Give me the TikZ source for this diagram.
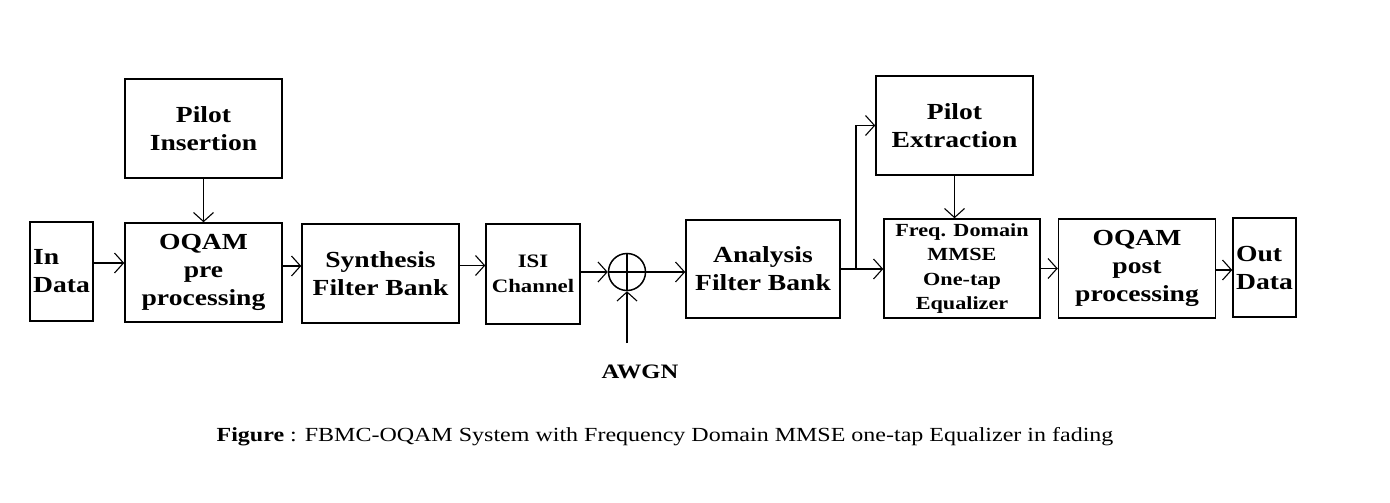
\documentclass[tikz,border=0pt]{standalone}
\usepackage{fontspec}
\setmainfont{Liberation Serif}[FakeStretch=1.2]
\usepackage{tikz}
\usetikzlibrary{positioning,calc,arrows.meta}
\tikzset{
  blk/.style={draw,line width=1.5pt,inner sep=2pt,align=center,
    font=\fontsize{23}{28}\selectfont\bfseries},
  arr/.style={-{Straight Barb[length=9pt,width=20pt,line width=1.1pt]},line width=1.5pt},
  lnk/.style={line width=1.5pt},
}
\begin{document}
\begin{tikzpicture}[x=1pt,y=-1pt,
  small/.style={font=\fontsize{18.5}{24.5}\selectfont\bfseries}]
\useasboundingbox (0,0) rectangle (1390,503);
\node[blk,minimum width=63,minimum height=99,align=left] (in) at (61.5,271.5) {In\\Data};
\node[blk,minimum width=157,minimum height=99] (pi) at (203.5,128.5) {Pilot\\Insertion};
\node[blk,minimum width=157,minimum height=99] (op) at (203.5,272.5) {OQAM\\pre\\processing};
\node[blk,minimum width=157,minimum height=99] (sf) at (380.5,273.5) {Synthesis\\Filter Bank};
\node[blk,small,font=\fontsize{19}{25}\selectfont\bfseries,minimum width=94,minimum height=100] (isi) at (533,274) {ISI\\Channel};
\node[draw,circle,line width=1.5pt,minimum size=37,inner sep=0pt] (sum) at (627,272) {};
\draw[lnk] (sum.north) -- (sum.south) (sum.west) -- (sum.east);
\node[font=\fontsize{20.5}{24}\selectfont\bfseries] (awgn) at (640,372) {AWGN};
\coordinate (nz) at (627,343);
\node[blk,minimum width=154,minimum height=98] (afb) at (763,269) {Analysis\\Filter Bank};
\node[blk,minimum width=157,minimum height=99] (pe) at (954.5,125.5) {Pilot\\Extraction};
\node[blk,small,minimum width=156,minimum height=99] (eq) at (962,268.5)
  {Freq. Domain\\MMSE\\One-tap\\Equalizer};
\node[blk,minimum width=157,minimum height=99] (post) at (1137,268.5) {OQAM\\post\\processing};
\node[blk,minimum width=63,minimum height=99,align=left] (out) at (1264.5,267.5) {Out\\Data};
\coordinate (br) at (856,269);

% transmitter
\draw[arr] ([yshift=8.5pt]in.east) -- ([yshift=8.5pt]in.east -| op.west);
\draw[arr] (pi.south) -- (op.north);
\draw[arr] ([yshift=6.5pt]op.east) -- ([yshift=6.5pt]op.east -| sf.west);
\draw[arr] ([yshift=8pt]sf.east) -- ([yshift=8pt]sf.east -| isi.west);
% channel
\draw[arr] (isi.east |- sum.west) -- (sum.west);
\draw[arr] (nz) -- (sum.south);
\draw[arr] (sum.east) -- (sum.east -| afb.west);
% receiver
\draw[arr] (afb.east |- br) -- (br -| eq.west);
\draw[arr] (br) |- (pe.west);
\draw[arr] (pe.south) -- (pe.south |- eq.north);
\draw[arr] (eq.east) -- (eq.east -| post.west);
\draw[arr] ([yshift=-1.5pt]post.east) -- ([yshift=-1.5pt]post.east -| out.west);

\node[font=\fontsize{20}{24}\selectfont] (cap) at (665,437)
  {\textbf{Figure} : FBMC-OQAM System with Frequency Domain MMSE one-tap Equalizer in fading};
\end{tikzpicture}
\end{document}
